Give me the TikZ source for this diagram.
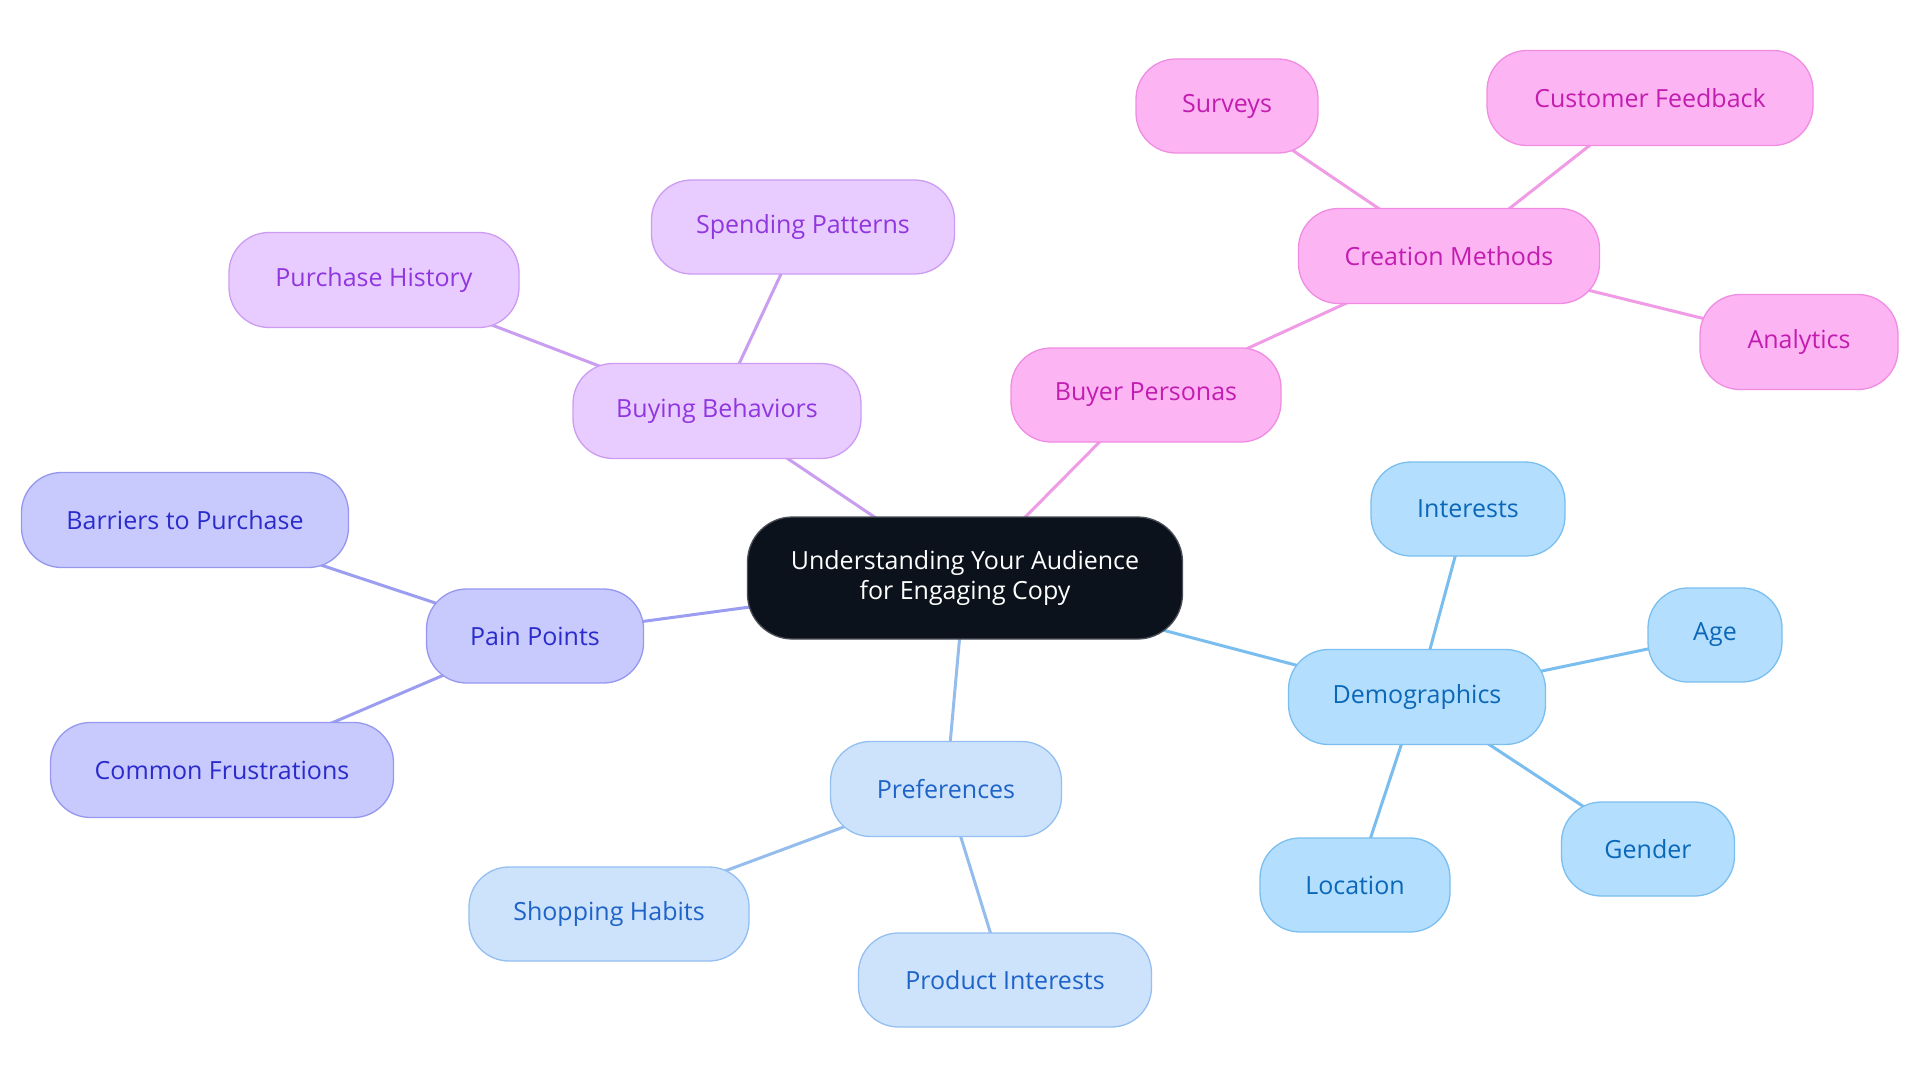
\documentclass[tikz,border=0pt]{standalone}
\usepackage{fontspec}
\setmainfont{Open Sans}
\usetikzlibrary{backgrounds}
\definecolor{pkfill}{HTML}{FDB4F3}\definecolor{pkline}{HTML}{F08DE2}\definecolor{pktext}{HTML}{C21DB0}\definecolor{pkedge}{HTML}{F09BE6}
\definecolor{pufill}{HTML}{E8CCFF}\definecolor{puline}{HTML}{CD9CF2}\definecolor{putext}{HTML}{9036DE}\definecolor{puedge}{HTML}{C99DF0}
\definecolor{infill}{HTML}{C8CAFD}\definecolor{inline}{HTML}{9598EE}\definecolor{intext}{HTML}{2B2BCC}\definecolor{inedge}{HTML}{9B9DF0}
\definecolor{lbfill}{HTML}{CDE3FC}\definecolor{lbline}{HTML}{94BFF0}\definecolor{lbtext}{HTML}{1E63C8}\definecolor{lbedge}{HTML}{94BDEE}
\definecolor{skfill}{HTML}{B3DEFD}\definecolor{skline}{HTML}{7BBFF0}\definecolor{sktext}{HTML}{0B67B8}\definecolor{skedge}{HTML}{7ABDEF}
\definecolor{rootfill}{HTML}{0B121B}\definecolor{rootline}{HTML}{4A4F57}
\begin{document}
\begin{tikzpicture}[x=1pt,y=-1pt,
  box/.style={rounded corners=40pt, line width=1.3pt, inner sep=0pt, align=center, font=\fontsize{25}{30}\selectfont},
  pk/.style={box, fill=pkfill, draw=pkline, text=pktext},
  pu/.style={box, fill=pufill, draw=puline, text=putext},
  ind/.style={box, fill=infill, draw=inline, text=intext},
  lb/.style={box, fill=lbfill, draw=lbline, text=lbtext},
  sk/.style={box, fill=skfill, draw=skline, text=sktext},
  rootbox/.style={box, fill=rootfill, draw=rootline, text=white, rounded corners=45pt},
  edge/.style={line width=3pt}]
\useasboundingbox (0,0) rectangle (1920,1083);
\node[rootbox, minimum width=435pt, minimum height=122pt] (root) at (965,578) {Understanding Your Audience\\for Engaging Copy};
\node[pu, minimum width=288pt, minimum height=95pt] (bb) at (717,411) {Buying Behaviors};
\node[pu, minimum width=303pt, minimum height=94pt] (sp) at (803,227) {Spending Patterns};
\node[pu, minimum width=290pt, minimum height=95pt] (ph) at (374,280) {Purchase History};
\node[pk, minimum width=270pt, minimum height=94pt] (bp) at (1146,395) {Buyer Personas};
\node[pk, minimum width=301pt, minimum height=95pt] (cm) at (1449,256) {Creation Methods};
\node[pk, minimum width=182pt, minimum height=94pt] (sv) at (1227,106) {Surveys};
\node[pk, minimum width=326pt, minimum height=95pt] (cf) at (1650,98) {Customer Feedback};
\node[pk, minimum width=198pt, minimum height=95pt] (an) at (1799,342) {Analytics};
\node[ind, minimum width=217pt, minimum height=94pt] (pp) at (535,636) {Pain Points};
\node[ind, minimum width=327pt, minimum height=95pt] (bt) at (185,520) {Barriers to Purchase};
\node[ind, minimum width=343pt, minimum height=95pt] (cfr) at (222,770) {Common Frustrations};
\node[lb, minimum width=231pt, minimum height=95pt] (pr) at (946,789) {Preferences};
\node[lb, minimum width=280pt, minimum height=94pt] (sh) at (609,914) {Shopping Habits};
\node[lb, minimum width=293pt, minimum height=94pt] (pi) at (1005,980) {Product Interests};
\node[sk, minimum width=257pt, minimum height=95pt] (dm) at (1417,697) {Demographics};
\node[sk, minimum width=194pt, minimum height=94pt] (it) at (1468,509) {Interests};
\node[sk, minimum width=134pt, minimum height=94pt] (ag) at (1715,635) {Age};
\node[sk, minimum width=173pt, minimum height=94pt] (ge) at (1648,849) {Gender};
\node[sk, minimum width=190pt, minimum height=94pt] (lo) at (1355,885) {Location};
\begin{scope}[on background layer]
\fill[white] (0,0) rectangle (1920,1083);
\draw[edge, puedge] (root.center) -- (bb.center);
\draw[edge, puedge] (bb.center) -- (sp.center);
\draw[edge, puedge] (bb.center) -- (ph.center);
\draw[edge, pkedge] (root.center) -- (bp.center);
\draw[edge, pkedge] (bp.center) -- (cm.center);
\draw[edge, pkedge] (cm.center) -- (sv.center);
\draw[edge, pkedge] (cm.center) -- (cf.center);
\draw[edge, pkedge] (cm.center) -- (an.center);
\draw[edge, inedge] (root.center) -- (pp.center);
\draw[edge, inedge] (pp.center) -- (bt.center);
\draw[edge, inedge] (pp.center) -- (cfr.center);
\draw[edge, lbedge] (root.center) -- (pr.center);
\draw[edge, lbedge] (pr.center) -- (sh.center);
\draw[edge, lbedge] (pr.center) -- (pi.center);
\draw[edge, skedge] (root.center) -- (dm.center);
\draw[edge, skedge] (dm.center) -- (it.center);
\draw[edge, skedge] (dm.center) -- (ag.center);
\draw[edge, skedge] (dm.center) -- (ge.center);
\draw[edge, skedge] (dm.center) -- (lo.center);
\end{scope}
\end{tikzpicture}
\end{document}
